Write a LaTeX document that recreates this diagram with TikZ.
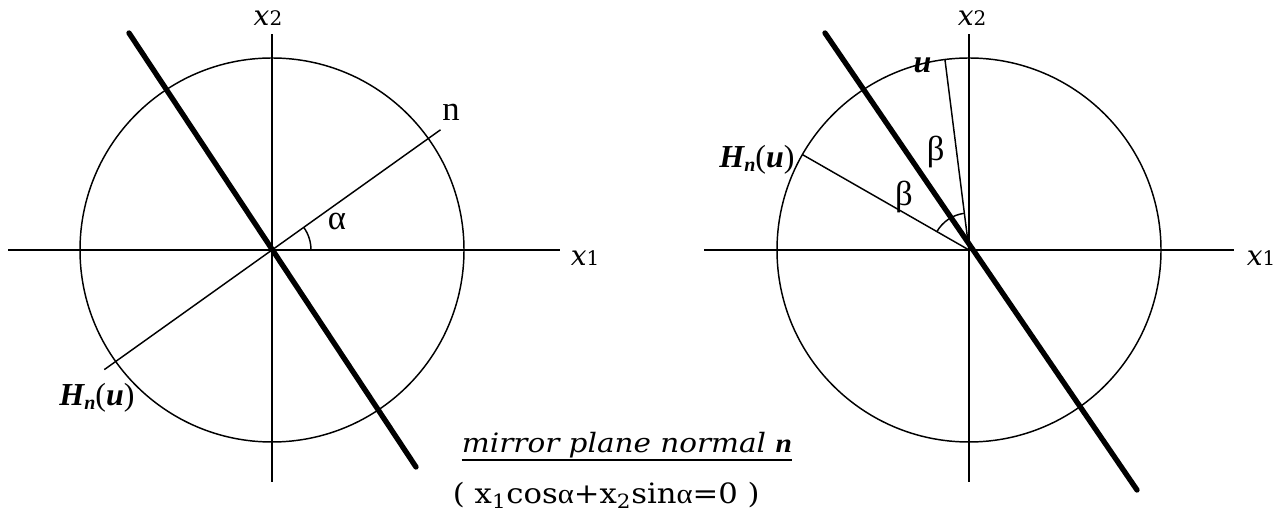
\documentclass[tikz,border=0pt]{standalone}
\usepackage{fontspec}
\setmainfont{DejaVu Serif}
\newfontfamily\timesf{Liberation Serif}
\usetikzlibrary{calc}
\newcommand\axlab[1]{{\fontsize{21}{23}\selectfont\textit{x}{\fontsize{15}{17}\selectfont #1}}}
\newcommand\hnu{{\timesf\fontsize{24}{26}\selectfont\bfseries\itshape H\raisebox{-2.5pt}{\fontsize{15}{17}\selectfont n}\mdseries\upshape(\bfseries\itshape u\mdseries\upshape)}}
\begin{document}
\begin{tikzpicture}[x=0.75pt,y=0.75pt,
  thinline/.style={line width=1.1pt},
  mirror/.style={line width=4pt, line cap=round},
  lab/.style={inner sep=0pt},
  greek/.style={inner sep=0pt, font=\timesf\fontsize{26}{28}\selectfont}]
\useasboundingbox (0,0) rectangle (1287,513);
% ---------- left diagram ----------
\coordinate (L) at (272,263);
\coordinate (Lxa) at (8,263);
\coordinate (Lxb) at (560,263);
\coordinate (Lya) at (272,31);
\coordinate (Lyb) at (272,479);
\coordinate (Lma) at (129,480);
\coordinate (Lmb) at (416,46);
\coordinate (Lna) at ($(L)+(35.5:207)$);
\coordinate (Lnb) at ($(L)+(215.5:206)$);
\draw[thinline] (L) circle[radius=192];
\draw[thinline] (Lxa) -- (Lxb);
\draw[thinline] (Lya) -- (Lyb);
\draw[thinline] (Lnb) -- (Lna);
\draw[thinline] ($(L)+(0:39)$) arc[start angle=0, end angle=35.5, radius=39];
\draw[mirror] (Lma) -- (Lmb);
\node[lab] (Lx2) at (268,495) {\axlab{2}};
\node[lab] (Lx1) at (585,255) {\axlab{1}};
\node[greek] (nlab) at (451,401) {n};
\node[greek] (alab) at (337,292) {α};
\node[lab] (Lhnu) at (97,115) {\hnu};
% ---------- right diagram ----------
\coordinate (R) at (969,263);
\coordinate (Rxa) at (704,263);
\coordinate (Rxb) at (1234,263);
\coordinate (Rya) at (969,31);
\coordinate (Ryb) at (969,479);
\coordinate (Rma) at (825,480);
\coordinate (Rmb) at (1137,23);
\coordinate (Ru) at ($(R)+(97.2:192)$);
\coordinate (Rh) at ($(R)+(150.2:192)$);
\draw[thinline] (R) circle[radius=192];
\draw[thinline] (Rxa) -- (Rxb);
\draw[thinline] (Rya) -- (Ryb);
\draw[thinline] (R) -- (Ru);
\draw[thinline] (R) -- (Rh);
\draw[thinline] ($(R)+(97.2:37)$) arc[start angle=97.2, end angle=150.2, radius=37];
\draw[mirror] (Rma) -- (Rmb);
\node[lab] (Rx2) at (972,495) {\axlab{2}};
\node[lab] (Rx1) at (1261,255) {\axlab{1}};
\node[lab] (ulab) at (922.5,448) {{\timesf\fontsize{24}{26}\selectfont\bfseries\itshape u}};
\node[lab] (Rhnu) at (757,353) {\hnu};
\node[greek] (b1) at (935.7,361.3) {β};
\node[greek] (b2) at (904,316.3) {β};
% ---------- caption ----------
\node[lab, anchor=base west] (cap) at (461.7,60)
  {\resizebox{247.5pt}{\height}{\fontsize{20}{22}\selectfont\itshape mirror plane normal {\timesf\bfseries n}}};
\draw[line width=1.6pt] ([yshift=-5.2pt]cap.base west) -- ([yshift=-5.2pt]cap.base east);
\node[lab, anchor=west] (eq) at (452.7,18)
  {\resizebox{230pt}{\height}{\fontsize{21}{23}\selectfont ( x\textsubscript{1}cos{\timesf α}+x\textsubscript{2}sin{\timesf α}=0 )}};
\end{tikzpicture}
\end{document}
